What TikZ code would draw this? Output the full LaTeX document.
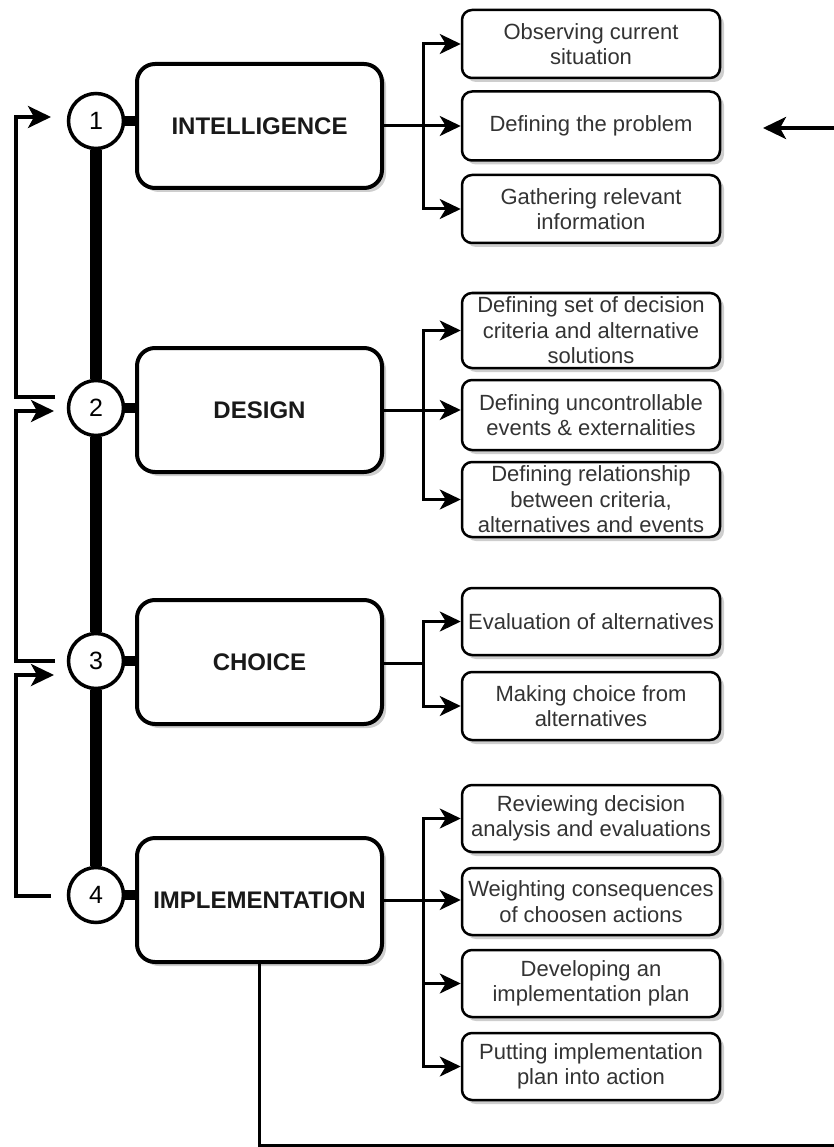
\documentclass[tikz,border=0pt]{standalone}
\usepackage{fontspec}
\setmainfont{Liberation Sans}
\usetikzlibrary{arrows.meta,shadows,calc}
\begin{document}
\begin{tikzpicture}[x=1pt,y=-1pt,
  softshadow/.style={drop shadow={shadow xshift=4pt,shadow yshift=-4pt,opacity=0.35,fill=black!55}},
  stage/.style={draw,line width=4pt,rounded corners=18pt,fill=white,
    minimum width=245pt,minimum height=124pt,inner sep=0pt,
    font=\fontsize{24}{28}\selectfont\bfseries,text=black!90,softshadow},
  task/.style={draw,line width=2.5pt,rounded corners=10pt,fill=white,
    minimum width=258pt,align=center,inner sep=0pt,
    font=\fontsize{22}{25.5}\selectfont,text=black!80,softshadow},
  num/.style={circle,draw,line width=3.5pt,fill=white,minimum size=55pt,
    inner sep=0pt,font=\fontsize{25}{29}\selectfont},
  link/.style={line width=3pt},
  arr/.style={line width=3pt,-{Stealth[length=21pt,width=20pt,inset=6pt]}},
  loop/.style={line width=3.5pt,-{Stealth[length=23pt,width=22pt,inset=6pt]}},
  bar/.style={line width=12pt},
  stub/.style={line width=10pt}
]
\useasboundingbox (0,0) rectangle (834,1147);

% phase boxes
\node[stage] (int) at (259.5,126) {INTELLIGENCE};
\node[stage] (des) at (259.5,410) {DESIGN};
\node[stage] (cho) at (259.5,662) {CHOICE};
\node[stage] (imp) at (259.5,900) {IMPLEMENTATION};

% numbered markers on the spine
\node[num] (c1) at (96,121) {1};
\node[num] (c2) at (96,408) {2};
\node[num] (c3) at (96,661) {3};
\node[num] (c4) at (96,895) {4};

% spine and stubs
\draw[bar] (c1.south) -- (c2.north);
\draw[bar] (c2.south) -- (c3.north);
\draw[bar] (c3.south) -- (c4.north);
\draw[stub] (c1.east) -- (c1.east -| int.west);
\draw[stub] (c2.east) -- (c2.east -| des.west);
\draw[stub] (c3.east) -- (c3.east -| cho.west);
\draw[stub] (c4.east) -- (c4.east -| imp.west);

% intelligence tasks
\node[task,minimum height=68pt] (i1) at (591,44) {Observing current\\situation};
\node[task,minimum height=69pt] (i2) at (591,126) {Defining the problem};
\node[task,minimum height=68pt] (i3) at (591,209) {Gathering relevant\\information};

% design tasks
\node[task,minimum height=75pt] (d1) at (591,330.5) {Defining set of decision\\criteria and alternative\\solutions};
\node[task,minimum height=70pt] (d2) at (591,415) {Defining uncontrollable\\events \& externalities};
\node[task,minimum height=75pt] (d3) at (591,499.5) {Defining relationship\\between criteria,\\alternatives and events};

% choice tasks
\node[task,minimum height=67pt] (h1) at (591,621.5) {Evaluation of alternatives};
\node[task,minimum height=68pt] (h2) at (591,706) {Making choice from\\alternatives};

% implementation tasks
\node[task,minimum height=67pt] (m1) at (591,818.5) {Reviewing decision\\analysis and evaluations};
\node[task,minimum height=67pt] (m2) at (591,901.5) {Weighting consequences\\of choosen actions};
\node[task,minimum height=67pt] (m3) at (591,983.5) {Developing an\\implementation plan};
\node[task,minimum height=67pt] (m4) at (591,1066.5) {Putting implementation\\plan into action};

% branches from each phase to its tasks
\coordinate (ib) at (423,126);
\draw[link] (int.east) -- (ib);
\draw[arr] (ib) |- (i1.west);
\draw[arr] (ib) -- (i2.west);
\draw[arr] (ib) |- (i3.west);

\coordinate (db) at (423,410);
\draw[link] (des.east) -- (db);
\draw[arr] (db) |- (d1.west);
\draw[arr] (db) -- (db -| d2.west);
\draw[arr] (db) |- (d3.west);

\coordinate (hb) at (423,663);
\draw[link] (cho.east |- hb) -- (hb);
\draw[arr] (hb) |- (h1.west);
\draw[arr] (hb) |- (h2.west);

\coordinate (mb) at (423,900);
\draw[link] (imp.east) -- (mb);
\draw[arr] (mb) |- (m1.west);
\draw[arr] (mb) -- (mb -| m2.west);
\draw[arr] (mb) |- (m3.west);
\draw[arr] (mb) |- (m4.west);

% feedback loops on the left
\coordinate (o2) at (55,397);
\coordinate (t1) at (51,117);
\draw[loop] (o2) -- ++(-39,0) |- (t1);
\coordinate (o3) at (55,661);
\coordinate (t2) at (54,411);
\draw[loop] (o3) -- ++(-39,0) |- (t2);
\coordinate (o4) at (51,896);
\coordinate (t3) at (54,675);
\draw[loop] (o4) -- ++(-35,0) |- (t3);

% loop back from implementation to the start
\coordinate (rb) at (834,1145);
\draw[link] (imp.south) -- (imp.south |- rb) -- (rb);
\coordinate (rs) at (834,128);
\coordinate (rt) at (763,128);
\draw[loop] (rs) -- (rt);
\end{tikzpicture}
\end{document}
